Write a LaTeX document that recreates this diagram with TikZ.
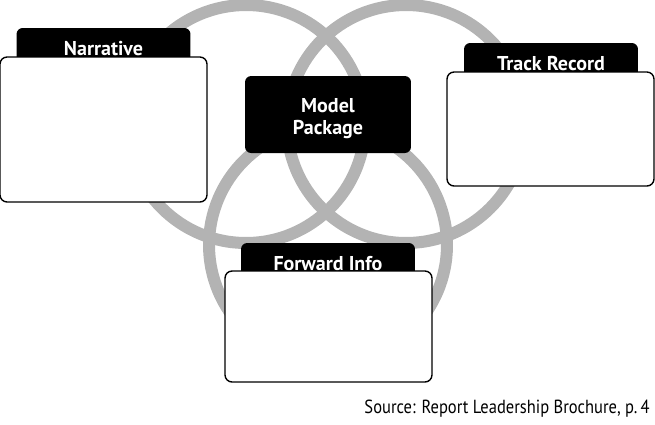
\documentclass[tikz,border=0pt]{standalone}
\usepackage{fontspec}
\setmainfont{PT Sans}
\newfontfamily\sourcefont[FakeStretch=0.87]{PT Sans}
\usepackage{tikz}
\usetikzlibrary{positioning,calc}

\definecolor{ringgray}{HTML}{B3B3B3}

\begin{document}
\begin{tikzpicture}[
    x=0.02cm, y=-0.02cm,
    ring/.style={draw=ringgray, line width=0.24cm},
    hub/.style={rectangle, fill=black, text=white, rounded corners=3.5pt, inner sep=0pt, minimum width=3.32cm, minimum height=1.54cm, align=center, font=\fontsize{11.4}{13.7}\selectfont\bfseries},
    tab/.style={rectangle, fill=black, text=white, rounded corners=3.5pt, inner sep=0pt, minimum width=3.48cm, minimum height=0.8cm, font=\fontsize{11.4}{13.7}\selectfont\bfseries},
    panel/.style={rectangle, draw=black, fill=white, line width=0.8pt, rounded corners=4pt, inner sep=0pt, minimum width=4.14cm}
]
\useasboundingbox (0,0) rectangle (655,424);

% Overlapping rings
\draw[ring] (246,124) circle [radius=2.38cm];
\draw[ring] (406,124) circle [radius=2.38cm];
\draw[ring] (328,245) circle [radius=2.38cm];

% Central concept
\node[hub] (model) at (328,114.5) {\raisebox{-2.2pt}[\height][\depth]{\begin{tabular}{@{}c@{}}Model\\[-1pt]Package\end{tabular}}};

% Folders
\node[tab, text depth=-2pt] (narrtab) at (103.5,48) {Narrative};
\node[panel, minimum height=2.9cm] (narr) at (103.5,129.5) {};

\node[tab, text depth=-2pt] (tracktab) at (551,63) {Track Record};
\node[panel, minimum height=2.28cm] (track) at (550.5,129) {};

\node[tab, text depth=-2pt] (fwdtab) at (328,263) {Forward Info};
\node[panel, minimum height=2.22cm] (fwd) at (328.5,326.5) {};

% Source line
\node[anchor=base east, inner sep=0pt, font=\sourcefont\fontsize{10.8}{12}\selectfont] (source) at (650,413) {Source: Report Leadership Brochure, p.\,4};
\end{tikzpicture}
\end{document}
